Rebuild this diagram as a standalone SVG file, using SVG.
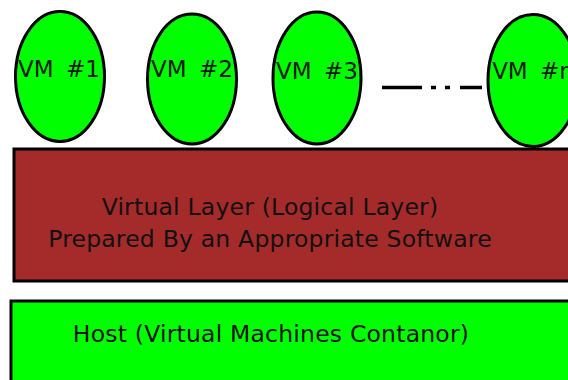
<svg xmlns="http://www.w3.org/2000/svg" width="568" height="380" viewBox="0 0 568 380">
  <style>
    .vm { fill: #00ff00; stroke: #000; stroke-width: 3; }
    .vm-label { font-family: "DejaVu Sans", sans-serif; font-size: 23px; fill: #0a1a0a; text-anchor: middle; word-spacing: 5px; }
    .layer-label { font-family: "DejaVu Sans", sans-serif; font-size: 23.5px; letter-spacing: 0.2px; fill: #111; text-anchor: middle; }
    .layer { stroke: #000; stroke-width: 3; }
  </style>
  <rect width="568" height="380" fill="#fff"/>

  <!-- host layer -->
  <g id="host">
    <rect class="layer" x="11" y="301" width="570" height="95" fill="#00ff00"/>
    <text class="layer-label" x="271" y="342">Host (Virtual Machines Contanor)</text>
  </g>

  <!-- virtual layer -->
  <g id="virtual-layer">
    <rect class="layer" x="14" y="149" width="570" height="132" fill="#a52a2a"/>
    <text class="layer-label" x="270" y="215">Virtual Layer (Logical Layer)</text>
    <text class="layer-label" x="270" y="247">Prepared By an Appropriate Software</text>
  </g>

  <!-- virtual machines -->
  <g id="vm1">
    <ellipse class="vm" cx="60" cy="76.5" rx="44.5" ry="65"/>
    <text class="vm-label" x="59" y="77">VM #1</text>
  </g>
  <g id="vm2">
    <ellipse class="vm" cx="192" cy="79" rx="44.5" ry="65"/>
    <text class="vm-label" x="192" y="77">VM #2</text>
  </g>
  <g id="vm3">
    <ellipse class="vm" cx="317" cy="78" rx="44" ry="66"/>
    <text class="vm-label" x="317" y="79">VM #3</text>
  </g>
  <g id="vmn">
    <ellipse class="vm" cx="533" cy="80.5" rx="45" ry="66"/>
    <text class="vm-label" x="533" y="79">VM #n</text>
  </g>

  <!-- ellipsis between VM #3 and VM #n -->
  <g id="connectors">
    <path d="M382 87.5H422 M431 87.5H436 M445 87.5H450 M460 87.5H482" stroke="#000" stroke-width="3.5" fill="none"/>
  </g>
</svg>
